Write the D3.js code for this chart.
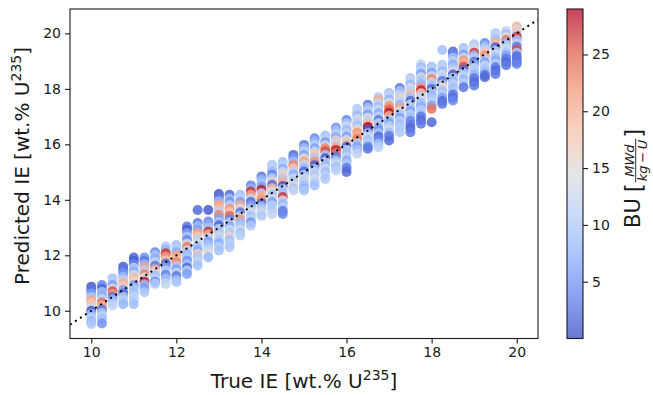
<!DOCTYPE html>
<html>
<head>
<meta charset="utf-8">
<script src="https://cdn.jsdelivr.net/npm/d3@7"></script>
<style>
  body { margin: 0; background: #fff; }
  text { font-family: "DejaVu Sans", sans-serif; fill: #1a1a1a; }
</style>
</head>
<body>
<svg id="chart" width="653" height="395"></svg>
<script>
// true IE columns (wt.% U235)
const trueIE = [10, 10.25, 10.5, 10.75, 11, 11.25, 11.5, 11.75, 12, 12.25, 12.5, 12.75, 13, 13.25, 13.5, 13.75,
  14, 14.25, 14.5, 14.75, 15, 15.25, 15.5, 15.75, 16, 16.25, 16.5, 16.75, 17, 17.25, 17.5, 17.75,
  18, 18.25, 18.5, 18.75, 19, 19.25, 19.5, 19.75, 20];

// predicted IE for each column
const predictedIE = [
  [10.87,10.75,10.62,10.5,10.38,10.28,10.12,10.0,9.88,9.75,9.62,9.52],
  [10.93,10.8,10.68,10.55,10.42,10.3,10.18,10.05,9.92,9.8,9.7,9.54],
  [11.17,11.05,10.93,10.8,10.7,10.6,10.5,10.4,10.3,10.19],
  [11.59,11.47,11.35,11.22,11.1,11.0,10.88,10.75,10.62,10.5,10.38,10.24],
  [11.92,11.8,11.68,11.55,11.42,11.3,11.18,11.05,10.92,10.8,10.65,10.5,10.38,10.24],
  [11.92,11.8,11.68,11.56,11.45,11.32,11.2,11.05,10.95,10.82,10.67],
  [12.11,12.0,11.88,11.76,11.62,11.5,11.4,11.28,11.15,11.05,10.97],
  [12.32,12.2,12.07,11.95,11.82,11.7,11.58,11.45,11.3,11.15,10.97],
  [12.37,12.25,12.12,12.0,11.88,11.76,11.62,11.5,11.38,11.25,11.12,11.03],
  [13.04,12.92,12.8,12.68,12.55,12.42,12.3,12.18,12.05,11.92,11.8,11.68,11.55,11.45,11.33],
  [13.63,13.16,13.05,12.92,12.8,12.68,12.55,12.42,12.3,12.18,12.05,11.92,11.78,11.63],
  [13.63,13.22,13.1,12.98,12.86,12.75,12.62,12.5,12.38,12.25,12.12,11.93],
  [14.21,14.08,13.95,13.82,13.7,13.58,13.45,13.32,13.2,13.08,12.95,12.82,12.7,12.55,12.42,12.3,12.17],
  [14.18,14.05,13.92,13.8,13.68,13.55,13.42,13.3,13.18,13.05,12.92,12.8,12.68,12.55,12.42,12.29],
  [14.18,14.05,13.92,13.8,13.68,13.55,13.42,13.3,13.18,13.05,12.92,12.8,12.71],
  [14.52,14.4,14.3,14.18,14.05,13.92,13.8,13.68,13.55,13.42,13.3,13.18,13.07],
  [14.84,14.72,14.6,14.48,14.36,14.24,14.12,14.0,13.88,13.76,13.64,13.52,13.43],
  [15.26,15.14,15.02,14.9,14.78,14.66,14.54,14.42,14.3,14.18,14.05,13.92,13.8,13.65,13.49],
  [15.36,15.24,15.12,15.0,14.88,14.76,14.64,14.5,14.38,14.25,14.1,13.98,13.85,13.72,13.6,13.49],
  [15.62,15.5,15.38,15.25,15.14,15.02,14.9,14.78,14.65,14.52,14.42,14.34],
  [15.98,15.86,15.74,15.62,15.5,15.38,15.26,15.14,15.02,14.9,14.78,14.65,14.52,14.4,14.34],
  [16.22,16.1,15.98,15.86,15.74,15.62,15.5,15.38,15.25,15.12,15.0,14.88,14.76,14.64,14.52],
  [16.32,16.2,16.08,15.96,15.86,15.75,15.62,15.5,15.38,15.25,15.12,15.0,14.88,14.75],
  [16.61,16.5,16.38,16.26,16.14,16.02,15.9,15.8,15.68,15.55,15.42,15.3,15.18,15.06],
  [16.88,16.76,16.64,16.52,16.4,16.28,16.16,16.04,15.92,15.8,15.68,15.55,15.42,15.3,15.15,15.0],
  [17.28,17.16,17.04,16.92,16.8,16.68,16.55,16.42,16.3,16.18,16.05,15.92,15.8,15.66],
  [17.43,17.32,17.2,17.08,16.96,16.85,16.74,16.63,16.52,16.4,16.28,16.16,16.04,15.92,15.84],
  [17.7,17.6,17.48,17.36,17.24,17.12,17.0,16.88,16.76,16.64,16.52,16.4,16.28,16.15,16.02,15.9],
  [17.85,17.74,17.62,17.5,17.38,17.26,17.14,17.02,16.9,16.78,16.66,16.54,16.42,16.3,16.14],
  [18.03,17.92,17.8,17.68,17.56,17.44,17.32,17.2,17.08,16.96,16.84,16.72,16.6,16.44],
  [18.39,18.28,18.16,18.04,17.92,17.8,17.68,17.56,17.44,17.32,17.2,17.08,16.96,16.84,16.7,16.58,16.44],
  [18.89,18.78,18.66,18.54,18.42,18.3,18.18,18.06,17.95,17.84,17.72,17.6,17.48,17.36,17.24,17.12,17.0,16.87,16.74],
  [18.81,18.7,18.58,18.46,18.36,18.24,18.12,18.0,17.88,17.76,17.64,17.52,17.4,17.28,16.8],
  [19.4,18.87,18.76,18.64,18.52,18.4,18.28,18.16,18.04,17.92,17.8,17.68,17.56,17.46],
  [19.35,19.24,19.12,19.0,18.88,18.76,18.64,18.52,18.4,18.28,18.16,18.04,17.92,17.8,17.68,17.58],
  [19.47,19.36,19.24,19.12,19.02,18.92,18.8,18.7,18.58,18.46,18.34,18.22,18.06],
  [19.61,19.5,19.4,19.3,19.2,19.1,18.98,18.86,18.74,18.62,18.5,18.38,18.25,18.12],
  [19.65,19.54,19.42,19.3,19.2,19.08,18.96,18.84,18.72,18.6,18.5,18.42],
  [20.01,19.9,19.78,19.66,19.56,19.5,19.38,19.26,19.14,19.02,18.9,18.78,18.66,18.54],
  [20.09,19.98,19.88,19.76,19.66,19.56,19.44,19.32,19.2,19.08,18.96,18.85],
  [20.25,20.15,20.05,19.95,19.88,19.76,19.64,19.52,19.4,19.3,19.18,19.06,18.95,18.9]
];

// burnup (MWd/kg-U) of each point, same layout as predictedIE
const burnup = [
  [1,3,6,10,21,18,13,1,9,11,8,10],
  [4,2,9,7,12,24,20,3,10,12,9,5],
  [9,11,6,14,26,22,3,8,10,12],
  [1,3,5,9,12,20,17,6,2,10,11,8],
  [2,1,4,11,7,13,19,16,5,10,9,12,11,9],
  [5,3,8,21,11,23,14,28,9,6,10],
  [4,10,7,12,3,20,15,9,11,5,10],
  [10,8,27,22,18,2,6,11,4,9,12],
  [9,11,7,21,19,23,10,6,12,3,8,10],
  [3,1,6,10,4,15,24,12,8,10,5,9,2,11,6],
  [2,3,9,6,21,18,11,13,9,7,17,10,12,9],
  [1,4,7,10,27,20,12,6,9,11,14,8],
  [1,3,8,21,19,11,23,6,10,2,12,9,13,10,7,11,9],
  [2,9,5,12,22,18,25,4,11,7,13,10,16,9,11,10],
  [9,11,6,20,15,3,12,22,8,10,13,9,11],
  [4,8,27,21,12,2,6,10,14,9,11,5,10],
  [3,8,10,6,28,12,20,22,2,9,11,14,10],
  [10,12,8,4,11,16,2,19,15,9,13,6,11,10,12],
  [9,11,7,13,17,10,20,1,12,9,27,14,8,11,3,4],
  [2,5,9,23,18,11,7,13,10,16,9,12],
  [3,9,11,6,15,21,12,8,2,10,13,11,9,7,10],
  [4,8,11,6,13,18,10,22,1,9,12,10,14,11,9],
  [9,11,6,14,23,26,10,1,12,8,13,9,11,10],
  [5,9,11,7,17,12,20,28,24,3,10,13,9,11],
  [4,10,13,8,12,6,15,19,2,11,9,12,7,10,3,2],
  [10,12,8,14,11,9,16,22,20,24,11,6,9,12],
  [3,9,11,6,14,12,19,29,1,10,13,9,11,4,3],
  [10,20,12,9,13,7,11,3,12,8,5,10,2,4,9,11],
  [9,12,8,14,22,25,28,20,10,6,11,13,9,3,2],
  [3,9,11,16,12,8,21,13,10,6,12,9,11,10],
  [10,12,8,14,11,19,9,2,13,10,6,11,9,4,3,2,3],
  [12,9,11,6,14,10,8,22,28,18,11,13,9,7,11,10,3,2,3],
  [9,11,6,13,23,12,9,2,11,8,10,12,6,24,2],
  [9,10,12,8,14,11,3,12,16,9,11,6,2,3],
  [2,4,9,12,7,10,14,1,11,8,12,9,10,3,2,4],
  [9,11,6,13,22,20,26,2,10,12,8,11,3],
  [10,12,14,27,9,11,3,7,12,10,8,3,2,3],
  [4,9,12,18,22,11,6,13,10,8,3,2],
  [10,12,9,20,17,1,11,13,9,7,11,3,2,3],
  [12,9,14,24,8,11,13,10,6,3,2,3],
  [20,13,18,11,27,9,12,3,26,10,2,3,2,4]
];

const xTicks = [10, 12, 14, 16, 18, 20];
const yTicks = [10, 12, 14, 16, 18, 20];
const buTicks = [5, 10, 15, 20, 25];
const refLine = [9.5, 20.5];   // y = x

// matplotlib coolwarm
const coolwarm = ["rgb(59,76,192)", "rgb(98,130,234)", "rgb(141,176,254)", "rgb(184,208,249)",
  "rgb(221,221,221)", "rgb(245,196,173)", "rgb(244,154,123)", "rgb(222,96,77)", "rgb(180,4,38)"];

const svg = d3.select("#chart");
const M = { left: 70, right: 538, top: 9, bottom: 338.5 };

const x = d3.scaleLinear().domain([9.5, 20.5]).range([M.left, M.right]);
const y = d3.scaleLinear().domain([9.0, 20.88]).range([M.bottom, M.top]);
const bu = d3.scaleLinear().domain([0, 29]).range([M.bottom, M.top]);
const cmap = d3.scaleLinear()
  .domain(coolwarm.map((c, i) => i / (coolwarm.length - 1)))
  .range(coolwarm)
  .interpolate(d3.interpolateRgb);
const color = v => cmap(v / 29);

svg.append("defs").append("clipPath").attr("id", "plot")
  .append("rect").attr("x", M.left).attr("y", M.top)
  .attr("width", M.right - M.left).attr("height", M.bottom - M.top);

// points
const points = [];
trueIE.forEach((t, i) => {
  predictedIE[i].forEach((p, j) => points.push({ t: t, p: p, b: burnup[i][j] }));
});

svg.append("g")
  .attr("clip-path", "url(#plot)")
  .selectAll("circle")
  .data(points)
  .enter()
  .append("circle")
  .attr("cx", d => x(d.t))
  .attr("cy", d => y(d.p))
  .attr("r", 5)
  .attr("fill", d => color(d.b))
  .attr("fill-opacity", 0.85);

// y = x dotted line
svg.append("path")
  .attr("clip-path", "url(#plot)")
  .attr("fill", "none")
  .attr("stroke", "#000")
  .attr("stroke-width", 2)
  .attr("stroke-dasharray", "2,4")
  .attr("d", d3.line().x(d => x(d)).y(d => y(d))(refLine));

// axes
const xAxis = svg.append("g")
  .attr("transform", "translate(0," + M.bottom + ")")
  .call(d3.axisBottom(x).tickValues(xTicks).tickSize(5).tickPadding(4).tickFormat(d3.format("d")));
const yAxis = svg.append("g")
  .attr("transform", "translate(" + M.left + ",0)")
  .call(d3.axisLeft(y).tickValues(yTicks).tickSize(5).tickPadding(4).tickFormat(d3.format("d")));
[xAxis, yAxis].forEach(a => {
  a.select(".domain").remove();
  a.selectAll("line").attr("stroke", "#1a1a1a").attr("stroke-width", 1.1);
  a.selectAll("text").style("font-size", "14px").attr("fill", "#1a1a1a");
});

svg.append("rect")
  .attr("x", M.left).attr("y", M.top)
  .attr("width", M.right - M.left).attr("height", M.bottom - M.top)
  .attr("fill", "none").attr("stroke", "#1a1a1a").attr("stroke-width", 1.1);

// axis labels
svg.append("text")
  .attr("x", (M.left + M.right) / 2).attr("y", 388)
  .attr("text-anchor", "middle").style("font-size", "20px")
  .text("True IE [wt.% U")
  .append("tspan").attr("dy", -8).style("font-size", "14px").text("235")
  .select(function() { return this.parentNode; })
  .append("tspan").attr("dy", 8).text("]");

svg.append("text")
  .attr("transform", "translate(29,166) rotate(-90)")
  .attr("text-anchor", "middle").style("font-size", "20px")
  .text("Predicted IE [wt.% U")
  .append("tspan").attr("dy", -8).style("font-size", "14px").text("235")
  .select(function() { return this.parentNode; })
  .append("tspan").attr("dy", 8).text("]");

// colorbar
const cb = { x: 567, w: 16 };
const grad = svg.select("defs").append("linearGradient")
  .attr("id", "cbgrad").attr("x1", 0).attr("y1", 1).attr("x2", 0).attr("y2", 0);
coolwarm.forEach((c, i) => {
  grad.append("stop")
    .attr("offset", (i / (coolwarm.length - 1) * 100) + "%")
    .attr("stop-color", c).attr("stop-opacity", 0.75);
});
svg.append("rect")
  .attr("x", cb.x).attr("y", M.top).attr("width", cb.w).attr("height", M.bottom - M.top)
  .attr("fill", "url(#cbgrad)").attr("stroke", "#1a1a1a").attr("stroke-width", 1.1);

const cbAxis = svg.append("g")
  .attr("transform", "translate(" + (cb.x + cb.w) + ",0)")
  .call(d3.axisRight(bu).tickValues(buTicks).tickSize(5).tickPadding(4));
cbAxis.select(".domain").remove();
cbAxis.selectAll("line").attr("stroke", "#1a1a1a").attr("stroke-width", 1.1);
cbAxis.selectAll("text").style("font-size", "14px").attr("fill", "#1a1a1a");

// colorbar label: BU [MWd / kg-U]
const lab = svg.append("g").attr("transform", "translate(640,228) rotate(-90)");
let cx = 0;
const t1 = lab.append("text").attr("x", cx).attr("y", 0).style("font-size", "21px").text("BU");
cx += t1.node().getComputedTextLength() + 6;
const t2 = lab.append("text").attr("x", cx).attr("y", 2).style("font-size", "23px").text("[");
cx += t2.node().getComputedTextLength() + 1;
const num = lab.append("text").attr("y", -6.5).style("font-size", "13px").style("font-style", "italic").text("MWd");
const den = lab.append("text").attr("y", 7).style("font-size", "13px").style("font-style", "italic").text("kg\u2009\u2212\u2009U");
const fw = Math.max(num.node().getComputedTextLength(), den.node().getComputedTextLength()) + 2;
num.attr("x", cx + fw / 2).attr("text-anchor", "middle");
den.attr("x", cx + fw / 2).attr("text-anchor", "middle");
lab.append("line").attr("x1", cx).attr("x2", cx + fw).attr("y1", -4.3).attr("y2", -4.3)
  .attr("stroke", "#1a1a1a").attr("stroke-width", 0.9);
cx += fw + 1;
lab.append("text").attr("x", cx).attr("y", 2).style("font-size", "23px").text("]");
</script>
</body>
</html>
